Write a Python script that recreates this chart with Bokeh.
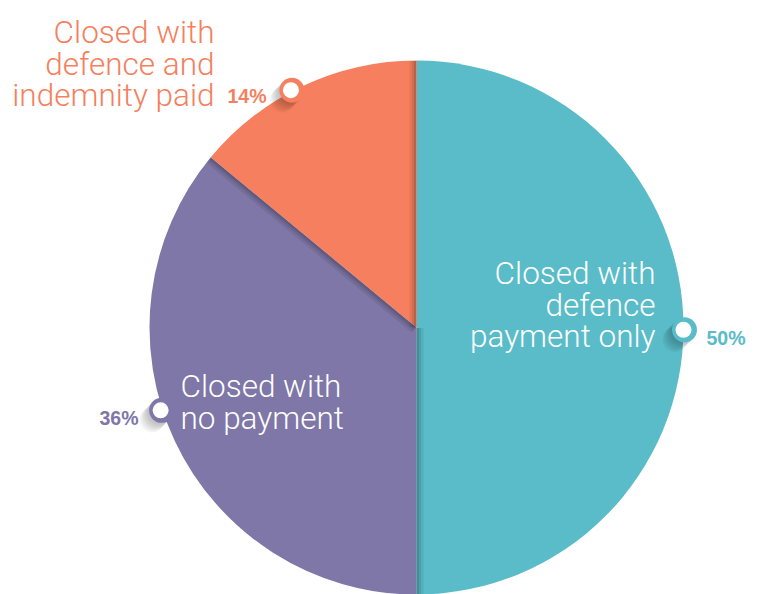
import math
from bokeh.plotting import figure
from bokeh.models import Range1d
from bokeh.core.properties import value
from bokeh.embed import file_html
from bokeh.resources import INLINE

# ---- data ----
categories = ["Closed with defence payment only", "Closed with no payment",
              "Closed with defence and indemnity paid"]
shares = [50, 36, 14]
pct_labels = ["50%", "36%", "14%"]
label_lines = [["Closed with", "defence", "payment only"],
               ["Closed with", "no payment"],
               ["Closed with", "defence and", "indemnity paid"]]
colors = ["#59BCC8", "#7E77A7", "#F57F5E"]
label_colors = ["white", "white", "#F57F5E"]

# ---- layout constants (screen px) ----
W, H = 765, 594
CX, CY, R = 416, 327, 267
marker_angle_from_top = [90.5, 252, 332.3]  # degrees clockwise from 12 o'clock
FONT = "'Helvetica Neue', 'Roboto Light', Roboto, 'Liberation Sans', sans-serif"

p = figure(width=W, height=H, output_backend="svg", toolbar_location=None,
           x_range=Range1d(0, W), y_range=Range1d(0, H), min_border=0)
p.axis.visible = False
p.grid.visible = False
p.outline_line_color = None
p.background_fill_color = "white"
p.border_fill_color = "white"

cy = H - CY
total = float(sum(shares))
cum = 0.0
bounds = []
for v, c in zip(shares, colors):
    a0 = math.radians(90 - 360 * cum / total)
    cum += v
    a1 = math.radians(90 - 360 * cum / total)
    p.wedge(x=CX, y=cy, radius=R, start_angle=a0, end_angle=a1,
            direction="clock", fill_color=c, line_color=None)
    bounds.append(a0)

# seam shadows (on the anticlockwise side of each boundary)
for th in bounds:
    for w, al in [(7, 0.07), (4.5, 0.08), (2.5, 0.1)]:
        px, py = -math.sin(th), math.cos(th)
        mx = CX + (R / 2) * math.cos(th) + px * w / 2
        my = cy + (R / 2) * math.sin(th) + py * w / 2
        p.rect(x=mx, y=my, width=R - 1, height=w, angle=th,
               fill_color="black", fill_alpha=al, line_color=None)

# markers
for ang, c in zip(marker_angle_from_top, colors):
    t = math.radians(ang)
    mx = CX + (R + 1) * math.sin(t)
    my = cy + (R + 1) * math.cos(t)
    for k in range(1, 12):
        p.scatter(x=mx - k * 0.9, y=my - k * 0.9, size=25, marker="circle",
                  fill_color="black", fill_alpha=0.025, line_color=None)
    p.scatter(x=mx, y=my, size=25, marker="circle", fill_color=c, line_color=None)
    p.scatter(x=mx - 1, y=my, size=16, marker="circle", fill_color="white", line_color=None)

# label text layout: (anchor x, first baseline y (screen), align), percent (x, baseline, align)
text_layout = [((655, 273, "right"), (706, 337, "left")),
               ((180, 386, "left"), (138, 417, "right")),
               ((214, 32, "right"), (266, 95, "right"))]
LINE = 31.5
for i, lines in enumerate(label_lines):
    (tx, ty, ta), (qx, qy, qa) = text_layout[i]
    xs = [tx] * len(lines)
    ys = [H - (ty + j * LINE) for j in range(len(lines))]
    p.text(x=xs, y=ys, text=lines, text_font=value(FONT), text_font_size="31.5px",
           text_color=label_colors[i], text_align=ta, text_baseline="alphabetic")
    p.text(x=[qx], y=[H - qy], text=[pct_labels[i]], text_font=value("'Liberation Sans', Arial, sans-serif"),
           text_font_size="19.5px", text_font_style="bold", text_color=colors[i],
           text_align=qa, text_baseline="alphabetic")

open("out.html", "w").write(file_html(p, INLINE))
